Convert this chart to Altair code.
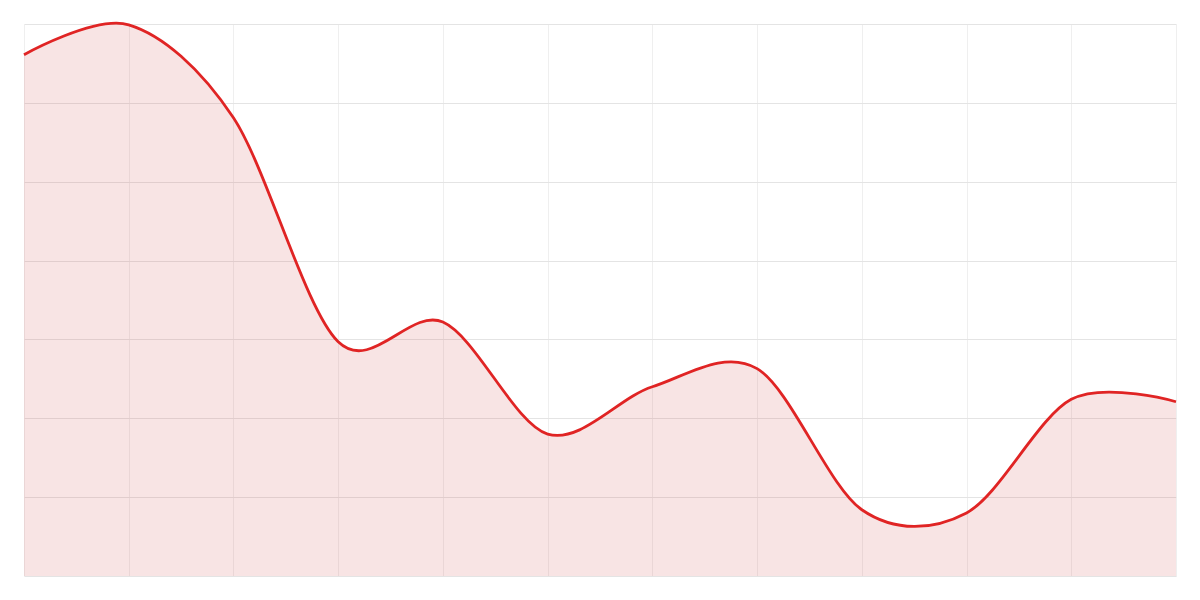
import altair as alt
import pandas as pd

x_index = list(range(12))
values = [6.61, 6.99, 5.81, 2.97, 3.22, 1.80, 2.40, 2.63, 0.84, 0.80, 2.24, 2.21]

df = pd.DataFrame({"x": x_index, "y": values})

xenc = alt.X("x:Q", scale=alt.Scale(domain=[0, 11], nice=False, zero=False),
             axis=alt.Axis(title=None, labels=False, ticks=False, domain=False,
                           values=x_index, gridColor="#efefef"))
yenc = alt.Y("y:Q", scale=alt.Scale(domain=[0, 7], nice=False),
             axis=alt.Axis(title=None, labels=False, ticks=False, domain=False,
                           values=list(range(8)), gridColor="#e4e4e4"))

area = alt.Chart(df).mark_area(interpolate="cardinal", tension=0.05,
                               color="#d04b4b", opacity=0.15).encode(x=xenc, y=yenc)
line = alt.Chart(df).mark_line(interpolate="cardinal", tension=0.05,
                               color="#e02424", strokeWidth=2.8).encode(x=xenc, y=yenc)

chart = (area + line).properties(
    width=1152, height=552,
    autosize=alt.AutoSizeParams(type="none"),
    padding={"left": 16, "top": 16, "right": 8, "bottom": 8},
).configure_view(stroke=None).configure_axis(gridWidth=1)

chart.save("out.html", embed_options={"renderer": "svg", "actions": False})
